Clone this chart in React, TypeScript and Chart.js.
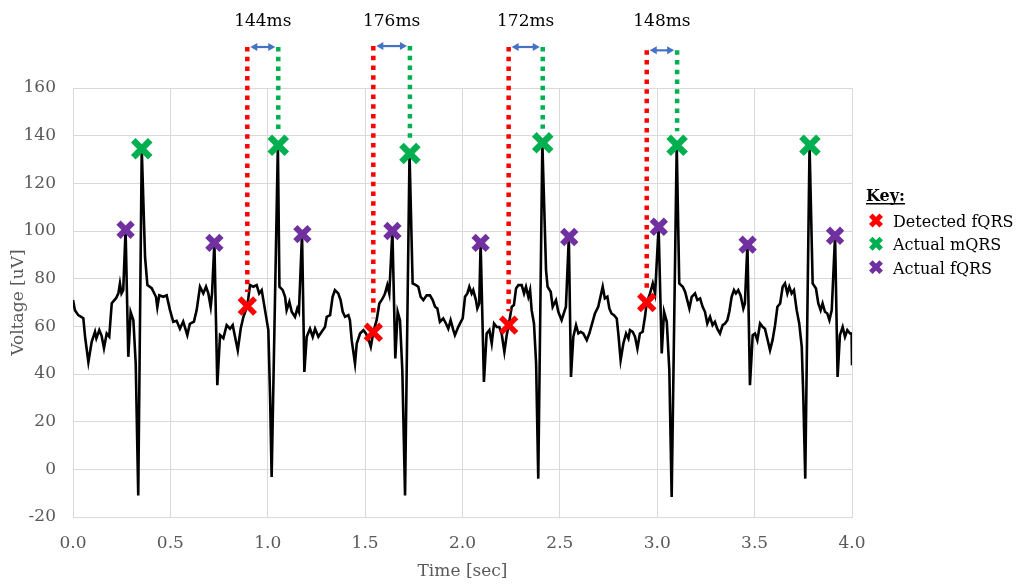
import { useEffect, useRef } from "react";
import { Chart, registerables } from "chart.js";

Chart.register(...registerables);

// Abdominal ECG trace (time in seconds, voltage in uV)
const SIGNAL_T = [
  0.0, 0.01, 0.027, 0.053, 0.062, 0.079, 0.096, 0.113, 0.12, 0.135, 0.147, 0.159, 0.173, 0.186, 0.199, 0.221,
  0.233, 0.241, 0.249, 0.258, 0.27, 0.284, 0.296, 0.31, 0.322, 0.335, 0.353, 0.37, 0.382, 0.404, 0.426, 0.433,
  0.443, 0.464, 0.481, 0.498, 0.515, 0.532, 0.549, 0.566, 0.587, 0.6, 0.621, 0.635, 0.652, 0.669, 0.683, 0.695,
  0.707, 0.714, 0.726, 0.741, 0.755, 0.772, 0.789, 0.806, 0.82, 0.832, 0.846, 0.861, 0.875, 0.895, 0.909, 0.926,
  0.943, 0.956, 0.969, 0.986, 1.003, 1.012, 1.02, 1.052, 1.06, 1.077, 1.089, 1.097, 1.111, 1.123, 1.14, 1.152,
  1.16, 1.176, 1.188, 1.2, 1.217, 1.231, 1.243, 1.26, 1.277, 1.294, 1.303, 1.32, 1.333, 1.345, 1.362, 1.374,
  1.385, 1.397, 1.414, 1.422, 1.431, 1.448, 1.457, 1.474, 1.491, 1.504, 1.516, 1.529, 1.542, 1.559, 1.573, 1.59,
  1.602, 1.614, 1.624, 1.64, 1.655, 1.667, 1.679, 1.691, 1.705, 1.728, 1.744, 1.761, 1.773, 1.785, 1.799, 1.816,
  1.833, 1.847, 1.859, 1.871, 1.884, 1.901, 1.915, 1.927, 1.939, 1.953, 1.961, 1.978, 1.992, 2.001, 2.013, 2.025,
  2.035, 2.047, 2.055, 2.069, 2.076, 2.086, 2.093, 2.11, 2.124, 2.138, 2.15, 2.162, 2.176, 2.189, 2.201, 2.215,
  2.227, 2.237, 2.253, 2.264, 2.275, 2.287, 2.304, 2.316, 2.326, 2.338, 2.347, 2.355, 2.367, 2.378, 2.389, 2.41,
  2.429, 2.437, 2.453, 2.463, 2.48, 2.492, 2.509, 2.52, 2.531, 2.546, 2.557, 2.569, 2.583, 2.595, 2.607, 2.62,
  2.638, 2.651, 2.668, 2.68, 2.697, 2.71, 2.72, 2.731, 2.744, 2.754, 2.765, 2.778, 2.792, 2.8, 2.812, 2.826,
  2.84, 2.852, 2.86, 2.874, 2.886, 2.898, 2.911, 2.925, 2.937, 2.946, 2.963, 2.977, 2.989, 3.007, 3.023, 3.035,
  3.049, 3.062, 3.074, 3.1, 3.113, 3.131, 3.143, 3.154, 3.165, 3.177, 3.194, 3.206, 3.22, 3.233, 3.245, 3.257,
  3.271, 3.284, 3.296, 3.308, 3.322, 3.336, 3.348, 3.36, 3.37, 3.382, 3.394, 3.404, 3.416, 3.428, 3.442, 3.45,
  3.463, 3.476, 3.49, 3.502, 3.514, 3.528, 3.542, 3.553, 3.565, 3.579, 3.592, 3.605, 3.617, 3.631, 3.644, 3.656,
  3.668, 3.678, 3.69, 3.702, 3.716, 3.729, 3.742, 3.75, 3.76, 3.782, 3.798, 3.815, 3.827, 3.839, 3.849, 3.861,
  3.873, 3.884, 3.896, 3.913, 3.926, 3.938, 3.952, 3.964, 3.976, 3.99, 3.998, 4.0,
];
const SIGNAL_UV = [
  71, 66.8, 64.7, 63.4, 55.6, 45, 53.5, 57.7, 55, 58.4, 56, 50.8, 57, 55.7, 69.7, 71.8,
  73.8, 78, 73.8, 75.2, 100.5, 47.2, 66, 62.6, 44.5, -11, 134.5, 89, 77.3, 76, 72.4, 68,
  73, 72.4, 73, 66.8, 61.9, 62.3, 59, 62, 56.3, 61, 62, 66.8, 76.6, 73.8, 76.6, 73.8,
  68.2, 73.8, 95, 35.3, 56.3, 55, 60.5, 59, 60.5, 55.6, 50, 59, 64, 68.5, 77.3, 76.6,
  77.3, 73.8, 75.2, 66.8, 58.4, 30.4, -3.2, 136, 76.6, 75.2, 72.4, 66.8, 70.3, 66.1, 64, 67.5,
  66, 98.7, 40.9, 55.6, 59, 55.6, 59, 55.6, 57.7, 59.7, 64, 64.7, 72.4, 75.2, 73.8, 71,
  66.1, 64, 64.7, 62.6, 54.2, 44.4, 52.8, 57, 58.4, 57, 54.9, 51.4, 57.5, 62.6, 69.6, 71.7,
  73.8, 77.3, 73.8, 100, 46.5, 66.1, 62.6, 41.6, -11, 132.5, 78, 77.3, 76.6, 72.4, 71, 73,
  73, 71, 68.2, 67.5, 61.9, 63.3, 61.2, 59, 62.6, 58.4, 56.3, 59.7, 62, 63.3, 72.4, 73.8,
  76.6, 73.8, 75.2, 71, 67.5, 69.6, 95, 36.7, 57, 58.4, 52.8, 61.2, 59.7, 59.7, 57, 49.3,
  56.3, 60.5, 68.2, 68.9, 75.9, 77.3, 77.3, 73.8, 76.6, 72.4, 75.2, 66.8, 61.2, 44.4, -3.9, 137,
  83.6, 76.6, 74.5, 68.2, 71, 66.1, 62.6, 65.4, 68.2, 97.5, 38.8, 55.6, 60.5, 57, 57.7, 57,
  54.2, 57, 61.9, 65.4, 68.2, 73, 76.6, 71.7, 72.4, 67.5, 65.4, 64.7, 63.3, 57, 45.8, 52.8,
  57, 54.9, 58.4, 57.7, 55.6, 50.7, 57, 57.7, 64, 70, 73.8, 78, 73.8, 101.8, 48.6, 66.1,
  61.9, 41.6, -11.6, 136, 78, 76.6, 74.5, 71, 67.5, 72.4, 73.8, 71, 71.7, 68.2, 66.1, 61.2,
  64, 60.5, 61.9, 59, 57, 60.5, 61.2, 62.6, 66.1, 72.4, 75.2, 73.8, 75.2, 73, 67.5, 69.6,
  94.3, 35.3, 56.3, 57, 54.2, 61.2, 59.7, 59, 54.9, 50, 54.2, 60.5, 68.2, 69.6, 76.6, 78,
  73.8, 76.6, 73.8, 75.2, 66.8, 61.2, 51.4, 30.4, -3.9, 136, 78, 75.9, 69.6, 66.8, 69.6, 66.1,
  65.4, 62.6, 66.8, 98, 38.8, 56.3, 59.7, 55.6, 58.4, 57, 57, 43.7,
];

// Annotated beats
const DETECTED_FQRS_T = [0.895, 1.542, 2.237, 2.946];
const DETECTED_FQRS_UV = [68.5, 57.5, 60.5, 70];
const ACTUAL_MQRS_T = [0.353, 1.054, 1.73, 2.412, 3.102, 3.784];
const ACTUAL_MQRS_UV = [134.5, 136, 132.5, 137, 136, 136];
const ACTUAL_FQRS_T = [0.27, 0.726, 1.178, 1.64, 2.093, 2.548, 3.008, 3.464, 3.913];
const ACTUAL_FQRS_UV = [100.5, 95, 98.7, 100, 95, 97.5, 101.8, 94.3, 98];

// Detection offsets: each detected fQRS is paired with the following mQRS
const OFFSET_LABELS = ["144ms", "176ms", "172ms", "148ms"];
const OFFSET_MQRS_INDEX = [1, 2, 3, 4];
const OFFSET_TOP_UV = [177.2, 177.6, 177.2, 175.8];
const OFFSET_LABEL_UV = 188;

// Axes
const X_MIN = 0;
const X_MAX = 4;
const X_STEP = 0.5;
const Y_MIN = -20;
const Y_MAX = 160;
const Y_STEP = 20;

const LEGEND_LABELS = ["Detected fQRS", "Actual mQRS", "Actual fQRS"];

const RED = "#FF0000";
const GREEN = "#00B050";
const PURPLE = "#7030A0";
const BLUE = "#4472C4";
const AXIS_TEXT = "#595959";
const GRID = "#D9D9D9";
const FONT = "'DejaVu Serif', serif";

function drawX(ctx: CanvasRenderingContext2D, cx: number, cy: number, half: number, width: number, color: string) {
  ctx.save();
  ctx.setLineDash([]);
  ctx.strokeStyle = color;
  ctx.lineWidth = width;
  ctx.beginPath();
  ctx.moveTo(cx - half, cy - half);
  ctx.lineTo(cx + half, cy + half);
  ctx.moveTo(cx - half, cy + half);
  ctx.lineTo(cx + half, cy - half);
  ctx.stroke();
  ctx.restore();
}

const offsetPlugin = {
  id: "offsetBrackets",
  afterDatasetsDraw(chart: any) {
    const { ctx, scales } = chart;
    const x = scales.x;
    const y = scales.y;
    ctx.save();
    OFFSET_LABELS.forEach((label, i) => {
      const rx = x.getPixelForValue(DETECTED_FQRS_T[i]);
      const ry = y.getPixelForValue(DETECTED_FQRS_UV[i]);
      const g = OFFSET_MQRS_INDEX[i];
      const gx = x.getPixelForValue(ACTUAL_MQRS_T[g]);
      const gy = y.getPixelForValue(ACTUAL_MQRS_UV[g]);
      const top = y.getPixelForValue(OFFSET_TOP_UV[i]);

      ctx.lineWidth = 4.5;
      ctx.lineCap = "butt";
      ctx.setLineDash([4.5, 5.2]);
      ctx.strokeStyle = RED;
      ctx.beginPath();
      ctx.moveTo(rx, top);
      ctx.lineTo(rx, ry - 14);
      ctx.stroke();
      ctx.strokeStyle = GREEN;
      ctx.beginPath();
      ctx.moveTo(gx, top);
      ctx.lineTo(gx, gy - 14);
      ctx.stroke();

      // double-headed arrow between the two markers
      ctx.setLineDash([]);
      const ay = top;
      const x1 = rx + 3;
      const x2 = gx - 3;
      const head = 7;
      ctx.strokeStyle = BLUE;
      ctx.fillStyle = BLUE;
      ctx.lineWidth = 2.2;
      ctx.beginPath();
      ctx.moveTo(x1 + head - 1, ay);
      ctx.lineTo(x2 - head + 1, ay);
      ctx.stroke();
      ctx.beginPath();
      ctx.moveTo(x1, ay);
      ctx.lineTo(x1 + head, ay - 4);
      ctx.lineTo(x1 + head, ay + 4);
      ctx.closePath();
      ctx.fill();
      ctx.beginPath();
      ctx.moveTo(x2, ay);
      ctx.lineTo(x2 - head, ay - 4);
      ctx.lineTo(x2 - head, ay + 4);
      ctx.closePath();
      ctx.fill();

      ctx.fillStyle = "#000";
      ctx.font = `17px ${FONT}`;
      ctx.textAlign = "center";
      ctx.textBaseline = "middle";
      ctx.fillText(label, (rx + gx) / 2, y.getPixelForValue(OFFSET_LABEL_UV));
    });
    ctx.restore();
  },
};

const keyPlugin = {
  id: "keyBox",
  afterDraw(chart: any) {
    const { ctx, chartArea } = chart;
    const left = chartArea.right + 14;
    ctx.save();
    ctx.fillStyle = "#000";
    ctx.textAlign = "left";
    ctx.textBaseline = "alphabetic";
    ctx.font = `bold 16px ${FONT}`;
    const title = "Key:";
    ctx.fillText(title, left, 201);
    const w = ctx.measureText(title).width;
    ctx.fillRect(left, 203, w, 1.5);

    const colors = [RED, GREEN, PURPLE];
    ctx.font = `16px ${FONT}`;
    LEGEND_LABELS.forEach((label, i) => {
      const base = 227 + i * 23.3;
      drawX(ctx, left + 10, base - 6.5, 5.2, 5, colors[i]);
      ctx.fillStyle = "#000";
      ctx.fillText(label, left + 27, base);
    });
    ctx.restore();
  },
};

function points(ts: number[], vs: number[]) {
  return ts.map((t, i) => ({ x: t, y: vs[i] }));
}

export default function App() {
  const ref = useRef<HTMLCanvasElement | null>(null);

  useEffect(() => {
    const canvas = ref.current;
    if (!canvas) return;
    const axisFont = { family: FONT, size: 17 };
    const markerSet = (label: string, ts: number[], vs: number[], color: string, r: number, bw: number) => ({
      label,
      data: points(ts, vs),
      showLine: false,
      pointStyle: "crossRot" as const,
      pointRadius: r,
      pointHoverRadius: r,
      pointBorderWidth: bw,
      borderWidth: bw,
      pointBorderColor: color,
      borderColor: color,
      pointBackgroundColor: color,
      backgroundColor: color,
      order: 0,
      clip: false as const,
    });

    const chart = new Chart(canvas, {
      type: "scatter",
      data: {
        datasets: [
          markerSet("Detected fQRS", DETECTED_FQRS_T, DETECTED_FQRS_UV, RED, 11, 5.5),
          markerSet("Actual mQRS", ACTUAL_MQRS_T, ACTUAL_MQRS_UV, GREEN, 12, 6.5),
          markerSet("Actual fQRS", ACTUAL_FQRS_T, ACTUAL_FQRS_UV, PURPLE, 10, 6),
          {
            label: "Signal",
            data: points(SIGNAL_T, SIGNAL_UV),
            showLine: true,
            borderColor: "#000",
            backgroundColor: "#000",
            borderWidth: 2.6,
            pointRadius: 0,
            pointHoverRadius: 0,
            tension: 0,
            order: 1,
          } as any,
        ],
      },
      options: {
        responsive: false,
        animation: false,
        devicePixelRatio: 1,
        layout: { padding: { top: 88, right: 164, left: 0, bottom: 0 } },
        plugins: {
          legend: { display: false },
          tooltip: { enabled: false },
        },
        scales: {
          x: {
            type: "linear",
            min: X_MIN,
            max: X_MAX,
            afterFit: (s: any) => {
              s.height = 67;
            },
            ticks: {
              stepSize: X_STEP,
              autoSkip: false,
              maxRotation: 0,
              padding: 16,
              color: AXIS_TEXT,
              font: axisFont,
              callback: (v: any) => Number(v).toFixed(1),
            },
            grid: { color: GRID, lineWidth: 1, drawTicks: false },
            border: { color: GRID },
            title: {
              display: true,
              text: "Time [sec]",
              color: AXIS_TEXT,
              font: axisFont,
              padding: { top: 0, bottom: 2 },
            },
          },
          y: {
            type: "linear",
            min: Y_MIN,
            max: Y_MAX,
            afterFit: (s: any) => {
              s.width = 73;
            },
            ticks: {
              stepSize: Y_STEP,
              padding: 17,
              color: AXIS_TEXT,
              font: axisFont,
            },
            grid: { color: GRID, lineWidth: 1, drawTicks: false },
            border: { color: GRID },
            title: {
              display: true,
              text: "Voltage [uV]",
              color: AXIS_TEXT,
              font: axisFont,
              padding: { top: 8, bottom: 0 },
            },
          },
        },
      },
      plugins: [offsetPlugin, keyPlugin],
    });
    return () => chart.destroy();
  }, []);

  return (
    <div style={{ position: "fixed", left: 0, top: 0, width: 1016, height: 584, background: "#fff" }}>
      <canvas ref={ref} width={1016} height={584} style={{ display: "block" }} />
    </div>
  );
}
